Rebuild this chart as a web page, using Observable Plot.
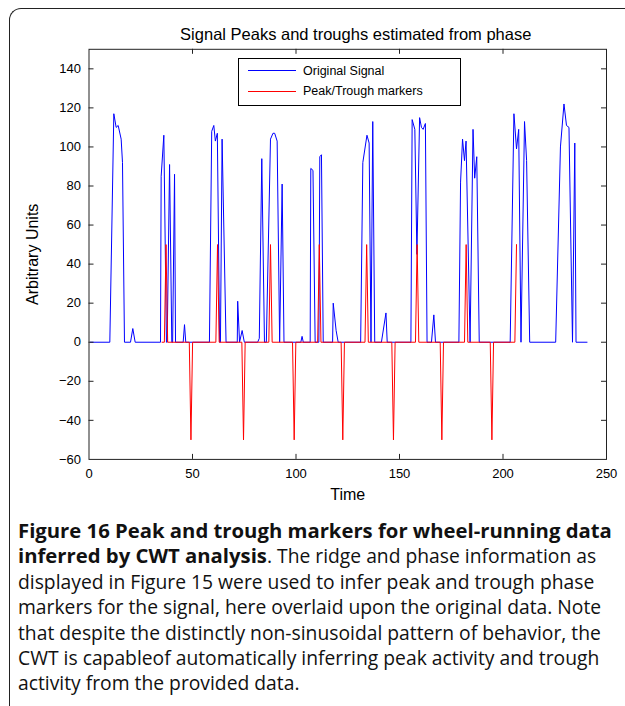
<!DOCTYPE html>
<html><head><meta charset="utf-8">
<script src="https://cdn.jsdelivr.net/npm/d3@7"></script>
<script src="https://cdn.jsdelivr.net/npm/@observablehq/plot@0.6"></script>
<style>
body{margin:0;background:#fff;}
#fig{position:relative;width:625px;height:706px;overflow:hidden;background:#fff;}
#border{position:absolute;left:9px;top:8px;width:700px;height:760px;border-left:1.3px solid #222;border-top:1.3px solid #222;border-top-left-radius:12px;}
#chart{position:absolute;left:0;top:0;}
#legend{position:absolute;left:238px;top:58px;width:223px;height:48px;border:1px solid #000;background:#fff;font-family:"Liberation Sans",Arial,sans-serif;font-size:12.5px;color:#000;box-sizing:border-box;}
#legend .row{position:absolute;left:9px;height:16px;display:flex;align-items:center;}
#legend .sw{width:48px;height:0;border-top:1px solid;margin-right:7px;}
#caption{position:absolute;left:18px;top:518px;font-family:"Open Sans",sans-serif;font-size:19.3px;line-height:25.4px;color:#111;white-space:nowrap;}
#caption b{font-size:20.3px;}
</style></head>
<body>
<div id="fig">
  <div id="border"></div>
  <div id="chart"></div>
  <div id="legend"></div>
  <div id="caption">
    <div><b>Figure 16 Peak and trough markers for wheel-running data</b></div>
    <div><b>inferred by CWT analysis</b>. The ridge and phase information as</div>
    <div>displayed in Figure 15 were used to infer peak and trough phase</div>
    <div>markers for the signal, here overlaid upon the original data. Note</div>
    <div>that despite the distinctly non-sinusoidal pattern of behavior, the</div>
    <div>CWT is capableof automatically inferring peak activity and trough</div>
    <div>activity from the provided data.</div>
  </div>
</div>
<script>
// ---- data ----
const signalTime = [
  0.7, 10.06, 11.99, 13.12, 14.09, 15.54, 16.18, 17.14,
  20.05, 21.16, 22.3,
  34.54, 34.86, 36.15, 37.41, 37.77, 38.92, 40.0, 40.4, 41.32, 41.8,
  45.49, 46.14, 46.74,
  58.18, 59.28, 60.29, 61.04, 62.0, 63.1, 63.5, 64.3, 66.21,
  71.63, 71.83, 72.73, 73.98, 75.04,
  81.47, 82.27, 83.47, 84.77, 85.67, 87.68, 88.88, 89.69, 90.89, 92.1, 93.3, 94.2,
  102.33, 102.93, 103.53,
  106.85, 107.15, 108.2, 109.25, 111.05, 111.5, 112.3, 113.15,
  117.68, 117.98, 119.38, 120.38,
  131.23, 132.28, 134.28, 135.33, 136.23, 137.08, 138.03,
  141.26, 143.46, 144.06,
  155.51, 156.11, 157.41, 158.41, 159.71, 160.61, 161.41, 162.51, 163.31,
  165.44, 166.59, 167.39,
  178.69, 179.5, 180.45, 181.4, 182.15, 184.1, 185.52, 186.32, 187.32, 188.52,
  203.47, 205.28, 206.53, 207.58, 208.69, 210.4, 211.4, 212.9,
  225.45, 227.75, 229.46, 230.67, 231.87, 233.58, 234.68, 235.28, 240.6
];
const signalValue = [
  0, 0, 117, 110, 111, 104, 92, 0,
  0, 7, 0,
  0, 85, 106, 0, 0, 91, 0, 0, 86, 0,
  0, 9, 0,
  0, 108, 111, 103, 107, 0, 0, 104, 0,
  0, 21, 0, 6, 0,
  0, 2, 94, 0, 0, 104, 107, 107, 103, 0, 81, 0,
  0, 3, 0,
  0, 89, 88, 0, 0, 95, 96, 0,
  0, 20, 6, 0,
  0, 92, 106, 102, 0, 113, 0,
  0, 15, 0,
  0, 114, 109, 45, 115, 110, 109, 112, 0,
  0, 14, 0,
  0, 82, 104, 93, 103, 0, 109, 84, 95, 0,
  0, 117, 99, 109, 0, 113, 93, 0,
  0, 100, 122, 111, 110, 0, 102, 0, 0
];
const markerStart = 35.3;
const peakTimes = [37.21, 62.09, 87.68, 111.26, 134.14, 158.52, 182.2, 206.53];
const troughTimes = [49.25, 74.64, 99.12, 122.6, 147.08, 170.46, 194.64];
const peakLevel = 50, troughLevel = -50, markerHalfWidth = 0.8;
const xTicks = [0, 50, 100, 150, 200, 250];
const yTicks = [-60, -40, -20, 0, 20, 40, 60, 80, 100, 120, 140];
const titleText = "Signal Peaks and troughs estimated from phase";
const xLabel = "Time", yLabel = "Arbitrary Units";
const legendItems = [{label: "Original Signal", color: "#0000ff"}, {label: "Peak/Trough markers", color: "#ff0000"}];

// ---- build tables ----
const signal = signalTime.map((t, i) => ({t, v: signalValue[i]}));
const events = [...peakTimes.map(t => ({t, v: peakLevel})), ...troughTimes.map(t => ({t, v: troughLevel}))].sort((a, b) => a.t - b.t);
const markers = [{t: markerStart, v: 0}];
events.forEach((e, i) => {
  markers.push({t: e.t - markerHalfWidth, v: 0}, {t: e.t, v: e.v});
  if (i < events.length - 1) markers.push({t: e.t + markerHalfWidth, v: 0});
});

const W = 625, H = 520, mL = 88.5, mR = 19, mT = 48.8, mB = 61.1;
const fw = W - mL - mR, fh = H - mT - mB, tl = 5;
const innerX = xTicks.slice(1, -1), innerY = yTicks.slice(1);

const chart = Plot.plot({
  width: W, height: H,
  marginLeft: mL, marginRight: mR, marginTop: mT, marginBottom: mB,
  x: {domain: [0, 250]},
  y: {domain: [-60, 150]},
  style: {fontFamily: "'Liberation Sans', Arial, sans-serif", fontSize: "13px", background: "transparent", color: "#000"},
  marks: [
    Plot.axisX(xTicks, {tickSize: 0, tickPadding: 9, label: null, fontSize: 13}),
    Plot.axisY(yTicks, {tickSize: 0, tickPadding: 8, label: null, fontSize: 13}),
    Plot.line(signal, {x: "t", y: "v", stroke: "#0000ff", strokeWidth: 1}),
    Plot.line(markers, {x: "t", y: "v", stroke: "#ff0000", strokeWidth: 1}),
    Plot.tickX(innerX, {x: d => d, insetTop: fh - tl, stroke: "#222"}),
    Plot.tickX(innerX, {x: d => d, insetBottom: fh - tl, stroke: "#222"}),
    Plot.tickY(innerY, {y: d => d, insetRight: fw - tl, stroke: "#222"}),
    Plot.tickY(innerY, {y: d => d, insetLeft: fw - tl, stroke: "#222"}),
    Plot.frame({stroke: "#222"}),
    Plot.text([xLabel], {text: d => d, frameAnchor: "bottom", textAnchor: "middle", dy: 41, fontSize: 16}),
    Plot.text([yLabel], {text: d => d, frameAnchor: "left", textAnchor: "middle", lineAnchor: "middle", dx: -56, rotate: -90, fontSize: 16}),
    Plot.text([titleText], {text: d => d, frameAnchor: "top", textAnchor: "middle", dy: -21, dx: 8, fontSize: 16.5})
  ]
});
document.getElementById("chart").appendChild(chart);

const lg = document.getElementById("legend");
legendItems.forEach((d, i) => {
  const row = document.createElement("div");
  row.className = "row";
  row.style.top = (3.5 + i * 20.5) + "px";
  const sw = document.createElement("span");
  sw.className = "sw";
  sw.style.borderTopColor = d.color;
  const tx = document.createElement("span");
  tx.textContent = d.label;
  row.appendChild(sw); row.appendChild(tx);
  lg.appendChild(row);
});
</script>
</body></html>
